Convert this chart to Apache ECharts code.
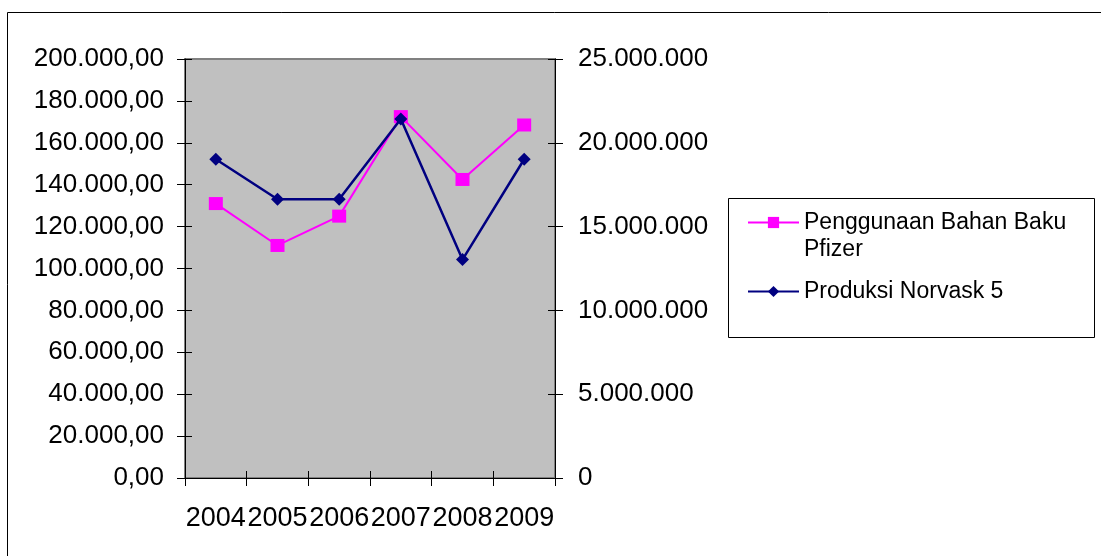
<!DOCTYPE html>
<html>
<head>
<meta charset="utf-8">
<script src="https://cdn.jsdelivr.net/npm/echarts@6/dist/echarts.min.js"></script>
<style>
  html, body { margin: 0; padding: 0; background: #ffffff; }
  #chart { width: 1101px; height: 556px; }
</style>
</head>
<body>
<div id="chart"></div>
<script>
// Tahun pengamatan
const years = ['2004', '2005', '2006', '2007', '2008', '2009'];
// Penggunaan bahan baku Pfizer (sumbu kiri)
const bahanBaku = [131000, 111000, 125000, 172500, 142500, 168500];
// Produksi Norvask 5 (sumbu kanan)
const produksi = [19020000, 16630000, 16630000, 21420000, 13030000, 19020000];
// Nama seri
const seriesNames = ['Penggunaan Bahan Baku Pfizer', 'Produksi Norvask 5'];
// Skala sumbu
const leftScale = { min: 0, max: 200000, interval: 20000 };
const rightScale = { min: 0, max: 25000000, interval: 5000000 };

const FONT = '"Liberation Sans", Arial, sans-serif';

function groupThousands(n) {
  return String(Math.round(n)).replace(/\B(?=(\d{3})+(?!\d))/g, '.');
}

const labelBase = { fontFamily: FONT, color: '#000', fontSize: 26 };
const tickOut = { show: true, length: 8, lineStyle: { color: '#000', width: 1 } };
const tickIn = { show: true, inside: true, length: 7, lineStyle: { color: '#000', width: 1 } };

const chart = echarts.init(document.getElementById('chart'), null, { renderer: 'canvas' });

chart.setOption({
  backgroundColor: '#ffffff',
  animation: false,
  grid: {
    left: 185, right: 546, top: 59, bottom: 78,
    show: true,
    backgroundColor: '#C0C0C0',
    borderColor: '#808080',
    borderWidth: 2,
    outerBoundsMode: 'none'
  },
  graphic: [
    {
      type: 'rect', silent: true, z: -1,
      shape: { x: 7.5, y: 12.5, width: 1200, height: 600 },
      style: { fill: null, stroke: '#000', lineWidth: 1 }
    },
    {
      type: 'rect', silent: true,
      shape: { x: 728.5, y: 198.5, width: 366, height: 139 },
      style: { fill: null, stroke: '#000', lineWidth: 1 }
    }
  ],
  legend: {
    orient: 'vertical',
    left: 747,
    top: 182,
    padding: 0,
    itemWidth: 51,
    itemHeight: 14,
    itemGap: 15,
    selectedMode: false,
    textStyle: { fontFamily: FONT, fontSize: 23, color: '#000', lineHeight: 27 },
    // the leading empty line keeps the symbol level with the first text line
    formatter: function (name) {
      return name === seriesNames[0] ? '\nPenggunaan Bahan Baku\nPfizer' : name;
    },
    data: seriesNames
  },
  xAxis: [
    {
      type: 'category',
      data: years,
      boundaryGap: true,
      axisLine: { lineStyle: { color: '#000', width: 1 } },
      axisTick: tickOut,
      axisLabel: Object.assign({}, labelBase, { fontSize: 27, lineHeight: 27, margin: 27, interval: 0 })
    },
    {
      type: 'category',
      data: years,
      position: 'bottom',
      boundaryGap: true,
      axisLine: { show: false },
      axisTick: tickIn,
      axisLabel: { show: false }
    }
  ],
  yAxis: [
    Object.assign({
      type: 'value',
      position: 'left',
      splitLine: { show: false },
      axisLine: { show: true, lineStyle: { color: '#000', width: 1 } },
      axisTick: tickOut,
      axisLabel: Object.assign({ margin: 21, formatter: v => groupThousands(v) + ',00' }, labelBase)
    }, leftScale),
    Object.assign({
      type: 'value',
      position: 'left',
      splitLine: { show: false },
      axisLine: { show: false },
      axisTick: tickIn,
      axisLabel: { show: false }
    }, leftScale),
    Object.assign({
      type: 'value',
      position: 'right',
      splitLine: { show: false },
      axisLine: { show: true, lineStyle: { color: '#000', width: 1 } },
      axisTick: tickOut,
      axisLabel: Object.assign({ margin: 23, formatter: v => groupThousands(v) }, labelBase)
    }, rightScale),
    Object.assign({
      type: 'value',
      position: 'right',
      splitLine: { show: false },
      axisLine: { show: false },
      axisTick: tickIn,
      axisLabel: { show: false }
    }, rightScale)
  ],
  series: [
    {
      name: seriesNames[0],
      type: 'line',
      xAxisIndex: 0,
      yAxisIndex: 0,
      data: bahanBaku,
      symbol: 'rect',
      symbolSize: [14, 13],
      lineStyle: { color: '#FF00FF', width: 2 },
      itemStyle: { color: '#FF00FF' },
      z: 2
    },
    {
      name: seriesNames[1],
      type: 'line',
      xAxisIndex: 0,
      yAxisIndex: 2,
      data: produksi,
      symbol: 'diamond',
      symbolSize: [13, 13],
      lineStyle: { color: '#000080', width: 2.5 },
      itemStyle: { color: '#000080' },
      z: 3
    }
  ]
});
</script>
</body>
</html>
